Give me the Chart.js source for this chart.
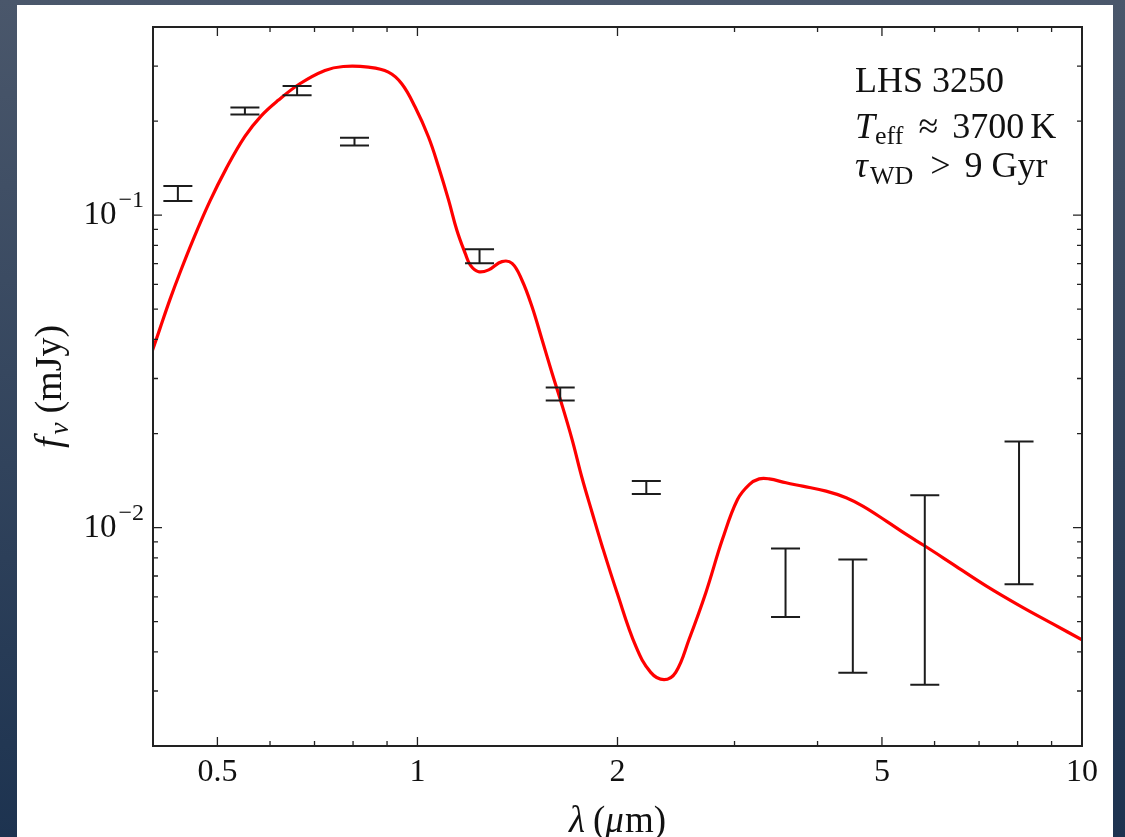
<!DOCTYPE html>
<html>
<head>
<meta charset="utf-8">
<script src="https://cdn.jsdelivr.net/npm/chart.js@4.4.0/dist/chart.umd.min.js"></script>
<style>
  html, body { margin: 0; padding: 0; width: 1125px; height: 837px; overflow: hidden;
    background: linear-gradient(#4a576b, #1d3350); }
  #panel { position: absolute; left: 17px; top: 5px; width: 1096px; height: 832px; background: #fff; }
  #wrap { position: absolute; left: 0; top: 0; width: 1125px; height: 837px; }
</style>
</head>
<body>
<div id="panel"></div>
<div id="wrap"><canvas id="sedChart"></canvas></div>
<script>
// Photometry: band wavelengths (micron) and flux interval (mJy)
const bandWave = [0.436, 0.55, 0.659, 0.804, 1.24, 1.64, 2.21, 3.58, 4.52, 5.80, 8.04];
const fluxHigh = [0.124, 0.221, 0.259, 0.177, 0.0777, 0.0281, 0.0141, 0.00857, 0.00790, 0.0127, 0.01886];
const fluxLow  = [0.111, 0.210, 0.242, 0.167, 0.0701, 0.0255, 0.0128, 0.00517, 0.00343, 0.00314, 0.00659];

// Model atmosphere spectrum
const modelWave = [0.395, 0.4096, 0.4240, 0.4390, 0.4594, 0.4868, 0.5152, 0.5497, 0.5820, 0.6172, 0.6653,
  0.7258, 0.7733, 0.8435, 0.9042, 0.947, 0.992, 1.039, 1.076, 1.114, 1.146,
  1.180, 1.201, 1.236, 1.280, 1.340, 1.388, 1.436, 1.487, 1.540, 1.594,
  1.641, 1.709, 1.768, 1.832, 1.895, 1.996, 2.130, 2.244, 2.350, 2.447,
  2.564, 2.716, 2.877, 3.031, 3.157, 3.268, 3.383, 3.586, 3.798, 4.120,
  4.417, 4.679, 5.076, 5.440, 5.802, 6.397, 7.182, 8.065, 9.053, 10.0];
const modelFlux = [0.0345, 0.04325, 0.05354, 0.06528, 0.0832, 0.1104, 0.1406, 0.1783, 0.2078, 0.2330, 0.2633,
  0.2904, 0.2990, 0.2975, 0.2868, 0.2633, 0.2217, 0.1778, 0.1426, 0.1117, 0.0896,
  0.0754, 0.0692, 0.0659, 0.0668, 0.0710, 0.0701, 0.0620, 0.0510, 0.0399, 0.03124,
  0.02566, 0.01913, 0.01446, 0.01116, 0.00877, 0.00621, 0.00418, 0.00344, 0.00326, 0.00344,
  0.00440, 0.00619, 0.00917, 0.01230, 0.01373, 0.01432, 0.01432, 0.01391, 0.01357, 0.01308,
  0.01246, 0.01171, 0.01049, 0.00951, 0.00873, 0.00763, 0.00650, 0.00562, 0.00491, 0.00437];

// Axis ticks
const xMajor = [0.5, 1, 2, 5, 10];
const xLabels = ['0.5', '1', '2', '5', '10'];
const xMinor = [0.6, 0.7, 0.8, 0.9, 3, 4, 6, 7, 8, 9];
const yMajor = [0.01, 0.1];
const yExponents = ['\u22122', '\u22121'];
const yMinor = [0.003, 0.004, 0.005, 0.006, 0.007, 0.008, 0.009,
  0.02, 0.03, 0.04, 0.05, 0.06, 0.07, 0.08, 0.09, 0.2, 0.3];

const SERIF = '"Liberation Serif", "DejaVu Serif", serif';

function runsWidth(ctx, runs) {
  let w = 0;
  runs.forEach(r => { ctx.font = r.font; w += (r.pre || 0) + ctx.measureText(r.text).width; });
  return w;
}
function drawRuns(ctx, x, y, runs) {
  runs.forEach(r => {
    ctx.font = r.font;
    x += r.pre || 0;
    ctx.fillText(r.text, x, y + (r.dy || 0));
    x += ctx.measureText(r.text).width;
  });
}

// Frame, inward ticks, labels, error bars and the star's info box
const sedAxes = {
  id: 'sedAxes',
  afterDatasetsDraw(chart) {
    const { ctx, chartArea: a, scales: { x, y } } = chart;
    ctx.save();

    // error bars
    ctx.strokeStyle = '#1c1c1c';
    ctx.lineWidth = 2;
    bandWave.forEach((w, i) => {
      const px = x.getPixelForValue(w);
      const top = y.getPixelForValue(fluxHigh[i]);
      const bot = y.getPixelForValue(fluxLow[i]);
      ctx.beginPath();
      ctx.moveTo(px, top); ctx.lineTo(px, bot);
      ctx.moveTo(px - 14.5, top); ctx.lineTo(px + 14.5, top);
      ctx.moveTo(px - 14.5, bot); ctx.lineTo(px + 14.5, bot);
      ctx.stroke();
    });

    // frame
    ctx.strokeStyle = '#222';
    ctx.lineWidth = 2;
    ctx.strokeRect(a.left, a.top, a.right - a.left, a.bottom - a.top);

    // ticks on all four sides
    ctx.lineWidth = 1.3;
    ctx.beginPath();
    const xt = (v, len) => {
      const p = x.getPixelForValue(v);
      ctx.moveTo(p, a.bottom); ctx.lineTo(p, a.bottom - len);
      ctx.moveTo(p, a.top); ctx.lineTo(p, a.top + len);
    };
    const yt = (v, len) => {
      const p = y.getPixelForValue(v);
      ctx.moveTo(a.left, p); ctx.lineTo(a.left + len, p);
      ctx.moveTo(a.right, p); ctx.lineTo(a.right - len, p);
    };
    xMajor.forEach(v => xt(v, 9));
    xMinor.forEach(v => xt(v, 5));
    yMajor.forEach(v => yt(v, 9));
    yMinor.forEach(v => yt(v, 5));
    ctx.stroke();

    ctx.fillStyle = '#111';
    ctx.textBaseline = 'alphabetic';

    // x tick labels
    ctx.font = '32px ' + SERIF;
    ctx.textAlign = 'center';
    xMajor.forEach((v, i) => ctx.fillText(xLabels[i], x.getPixelForValue(v), a.bottom + 35));

    // y tick labels: 10 with exponent
    ctx.textAlign = 'left';
    yMajor.forEach((v, i) => {
      const p = y.getPixelForValue(v);
      const runs = [
        { text: '10', font: '33px ' + SERIF, dy: 9 },
        { text: yExponents[i], font: '24px ' + SERIF, dy: -8, pre: 2 }
      ];
      drawRuns(ctx, a.left - 9 - runsWidth(ctx, runs), p, runs);
    });

    // x title
    const xTitle = [
      { text: '\u03bb', font: 'italic 37px ' + SERIF },
      { text: '(', font: '37px ' + SERIF, pre: 8 },
      { text: '\u03bc', font: 'italic 37px ' + SERIF },
      { text: 'm)', font: '37px ' + SERIF, pre: 1 }
    ];
    drawRuns(ctx, (a.left + a.right) / 2 - runsWidth(ctx, xTitle) / 2, 832, xTitle);

    // y title
    const yTitle = [
      { text: 'f', font: 'italic 38px ' + SERIF },
      { text: '\u03bd', font: 'italic 27px ' + SERIF, dy: 7, pre: 3 },
      { text: '(mJy)', font: '38px ' + SERIF, pre: 9 }
    ];
    ctx.save();
    ctx.translate(61, (a.top + a.bottom) / 2);
    ctx.rotate(-Math.PI / 2);
    drawRuns(ctx, -runsWidth(ctx, yTitle) / 2, 0, yTitle);
    ctx.restore();

    // info box
    const big = '36px ' + SERIF, small = '26px ' + SERIF;
    drawRuns(ctx, 855, 92, [{ text: 'LHS 3250', font: big }]);
    drawRuns(ctx, 855, 138, [
      { text: 'T', font: 'italic ' + big },
      { text: 'eff', font: small, dy: 6 },
      { text: '\u2248', font: big, pre: 15 },
      { text: '3700', font: big, pre: 14 },
      { text: 'K', font: big, pre: 6 }
    ]);
    drawRuns(ctx, 855, 177, [
      { text: '\u03c4', font: 'italic ' + big },
      { text: 'WD', font: small, dy: 7, pre: 2 },
      { text: '>', font: big, pre: 17 },
      { text: '9', font: big, pre: 14 },
      { text: 'Gyr', font: big, pre: 9 }
    ]);
    ctx.restore();
  }
};

const sedCtx = document.getElementById('sedChart').getContext('2d');
const sedChart = new Chart(sedCtx, {
  type: 'line',
  data: {
    datasets: [{
      label: 'model',
      data: modelWave.map((w, i) => ({ x: w, y: modelFlux[i] })),
      borderColor: '#ff0000',
      borderWidth: 3.2,
      pointRadius: 0,
      tension: 0.4,
      fill: false
    }]
  },
  options: {
    responsive: true,
    maintainAspectRatio: false,
    animation: false,
    layout: { padding: { left: 153, top: 27, right: 43, bottom: 91 } },
    plugins: { legend: { display: false }, tooltip: { enabled: false } },
    scales: {
      x: { type: 'logarithmic', min: 0.4, max: 10, display: false },
      y: { type: 'logarithmic', min: 0.002, max: 0.4, display: false }
    }
  },
  plugins: [sedAxes]
});
</script>
</body>
</html>
